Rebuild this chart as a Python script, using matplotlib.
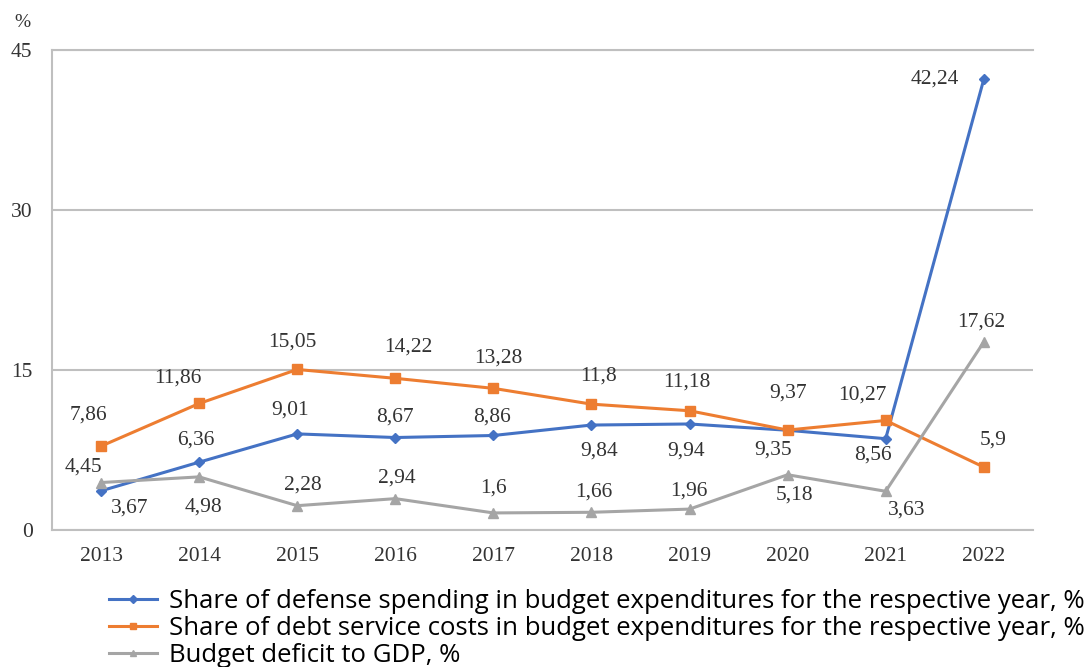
import matplotlib.pyplot as plt

years = ['2013', '2014', '2015', '2016', '2017', '2018', '2019', '2020', '2021', '2022']
defense = [3.67, 6.36, 9.01, 8.67, 8.86, 9.84, 9.94, 9.35, 8.56, 42.24]
debt = [7.86, 11.86, 15.05, 14.22, 13.28, 11.8, 11.18, 9.37, 10.27, 5.9]
deficit = [4.45, 4.98, 2.28, 2.94, 1.6, 1.66, 1.96, 5.18, 3.63, 17.62]

names = [
    'Share of defense spending in budget expenditures for the respective year, %',
    'Share of debt service costs in budget expenditures for the respective year, %',
    'Budget deficit to GDP, %',
]

# label offsets in pixels (dx, dy) for each point
off_defense = [(29, -17), (-3, 22), (-7, 24), (0, 20), (-1, 18), (8, -26), (-3, -27), (-15, -20), (-13, -16), (-49, 0)]
off_debt = [(-13, 31), (-21, 25), (-5, 27), (13, 31), (5, 30), (7, 28), (-3, 29), (0, 37), (-23, 25), (9, 27)]
off_deficit = [(-18, 15), (4, -30), (6, 21), (2, 21), (0, 25), (2, 20), (-1, 18), (7, -20), (21, -19), (-3, 20)]

text_col = '#333333'
grid_col = '#bfbfbf'

fig = plt.figure(figsize=(10.86, 6.67), dpi=100)
ax = fig.add_axes([0.0479, 0.2054, 0.9031, 0.7196])

x = list(range(len(years)))
l1, = ax.plot(x, defense, color='#4472c4', lw=2.2, marker='D', ms=5.5, label=names[0])
l2, = ax.plot(x, debt, color='#ed7d31', lw=2.2, marker='s', ms=6.5, label=names[1])
l3, = ax.plot(x, deficit, color='#a5a5a5', lw=2.2, marker='^', ms=7, label=names[2])

for vals, offs in [(defense, off_defense), (debt, off_debt), (deficit, off_deficit)]:
    for i, (v, o) in enumerate(zip(vals, offs)):
        ax.annotate(f'{v:g}'.replace('.', ','), (i, v), xytext=o, textcoords='offset pixels',
                    ha='center', va='center', fontsize=15.5, family='Liberation Serif', color=text_col)

ax.set_xlim(-0.5, 9.5)
ax.set_ylim(0, 45)
ax.set_yticks([0, 15, 30, 45])
ax.set_xticks(x)
ax.set_xticklabels(years)
ax.tick_params(length=0, labelsize=15.5, labelcolor=text_col)
ax.tick_params(axis='y', pad=14)
ax.tick_params(axis='x', pad=12)
for lab in ax.get_xticklabels() + ax.get_yticklabels():
    lab.set_family('Liberation Serif')

ax.grid(axis='y', color=grid_col, lw=1.5)
ax.set_axisbelow(True)
for s in ['left', 'top', 'bottom']:
    ax.spines[s].set_color(grid_col)
    ax.spines[s].set_linewidth(1.5)
ax.spines['right'].set_visible(False)

ax.annotate('%', (0, 1), xycoords='axes fraction', xytext=(-30, 28), textcoords='offset pixels',
            ha='center', va='center', fontsize=14, family='Liberation Serif', color=text_col)

fig.legend(handles=[l1, l2, l3], loc='upper left', bbox_to_anchor=(0.1, 0.117),
           frameon=False, prop={'family': 'Open Sans', 'size': 18.5}, handlelength=1.9,
           handletextpad=0.45, labelspacing=0.08, borderaxespad=0, borderpad=0, markerscale=0.7)

fig.savefig('out.png')
